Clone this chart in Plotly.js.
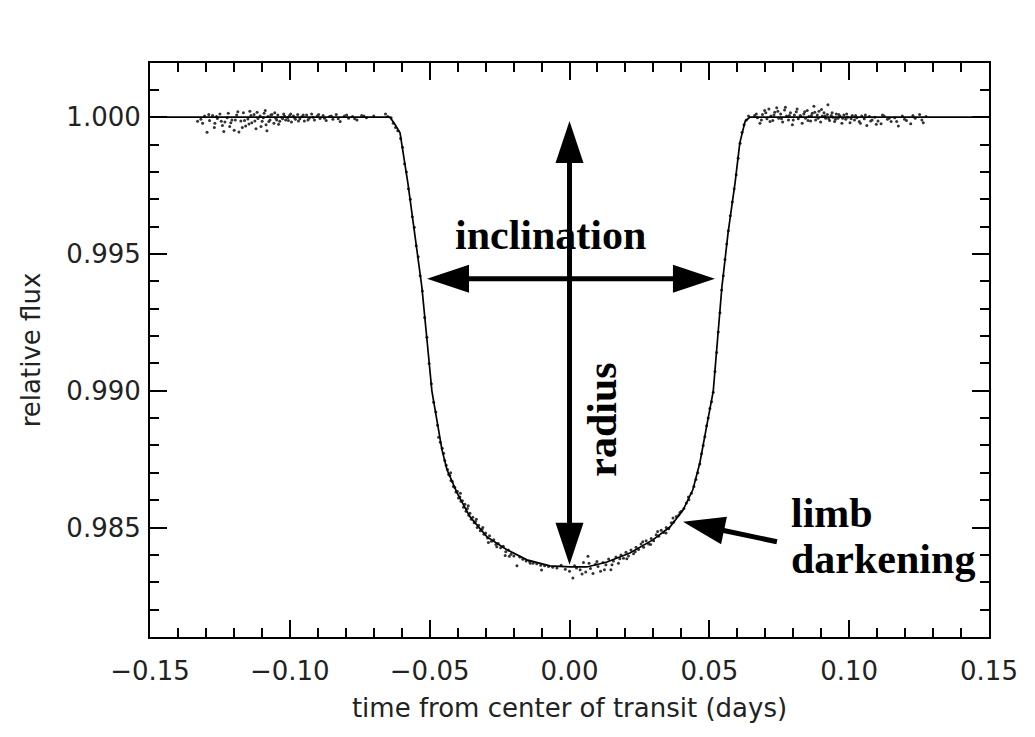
<!DOCTYPE html>
<html><head><meta charset="utf-8">
<script src="https://cdn.plot.ly/plotly-3.0.1.min.js"></script>
<style>html,body{margin:0;padding:0;background:#fff}#chart{width:1035px;height:737px}</style>
</head><body><div id="chart"></div>
<script>
// Model light curve
const modelTime = [-0.15, -0.0642, -0.0625, -0.0606, -0.0578, -0.0553, -0.0528, -0.0510, -0.0492, -0.0472, -0.0456, -0.0438, -0.0402, -0.0356, -0.0295, -0.0224, -0.0152, -0.0070, 0.0002, 0.0062, 0.0134, 0.0216, 0.0298, 0.0359, 0.0406, 0.0441, 0.0466, 0.0488, 0.0514, 0.0545, 0.0567, 0.0592, 0.0609, 0.0628, 0.0645, 0.15];
const modelFlux = [1.0000, 1.0000, 0.99975, 0.99943, 0.99760, 0.99577, 0.99380, 0.99190, 0.98999, 0.98880, 0.98784, 0.98711, 0.98627, 0.98539, 0.98466, 0.98419, 0.98382, 0.98360, 0.98356, 0.98356, 0.98374, 0.98407, 0.98455, 0.98502, 0.98564, 0.98638, 0.98736, 0.98857, 0.98999, 0.99380, 0.99577, 0.99760, 0.99906, 0.99985, 1.0000, 1.0000];

const obsTime = [
-0.1330,-0.1318,-0.1305,-0.1296,-0.1287,-0.1276,-0.1268,-0.1259,-0.1250,-0.1241,-0.1232,-0.1224,-0.1215,-0.1207,-0.1199,-0.1190,-0.1182,-0.1175,-0.1166,-0.1158,-0.1150,-0.1143,-0.1136,-0.1128,-0.1121,-0.1114,-0.1106,-0.1099,-0.1092,-0.1085,-0.1082,-0.1078,-0.1071,-0.1064,-0.1057,-0.1050,-0.1043,-0.1036,-0.1029,-0.1022,-0.1015,-0.1008,-0.1001,-0.0994,-0.0987,-0.0980,-0.0972,-0.0964,-0.0956,-0.0948,-0.0940,-0.0931,-0.0922,-0.0912,-0.0902,-0.0892,-0.0881,-0.0870,-0.0858,-0.0846,-0.0834,-0.0820,-0.0805,-0.0790,-0.0776,-0.0760,-0.0743,-0.0726,-0.0700,-0.0658,-0.0650,
-0.0638,-0.0630,-0.0622,-0.0614,-0.0604,-0.0597,-0.0590,-0.0583,-0.0576,-0.0569,-0.0562,-0.0555,-0.0548,-0.0541,-0.0534,-0.0526,-0.0518,-0.0510,-0.0502,-0.0494,-0.0486,-0.0478,-0.0472,
-0.0468,-0.0462,-0.0455,-0.0450,-0.0446,-0.0441,-0.0436,-0.0432,-0.0428,-0.0424,-0.0419,-0.0415,-0.0410,-0.0406,-0.0401,-0.0397,-0.0392,-0.0388,-0.0383,-0.0379,-0.0374,-0.0370,-0.0365,-0.0360,-0.0356,-0.0351,-0.0346,-0.0341,-0.0336,-0.0330,-0.0325,-0.0319,-0.0313,-0.0306,-0.0300,-0.0293,-0.0286,-0.0279,-0.0271,-0.0263,-0.0255,-0.0246,-0.0237,-0.0228,-0.0219,-0.0209,-0.0199,-0.0188,-0.0178,-0.0167,-0.0155,-0.0143,-0.0130,-0.0117,-0.0103,-0.0089,-0.0075,-0.0060,-0.0045,-0.0030,-0.0015,0.0000,0.0012,0.0025,0.0038,0.0050,0.0058,0.0066,0.0075,0.0084,0.0093,0.0102,0.0111,0.0120,0.0130,0.0140,0.0148,0.0157,0.0166,0.0175,0.0184,0.0193,0.0202,0.0211,0.0220,0.0229,0.0238,0.0247,0.0256,0.0265,0.0274,0.0283,0.0292,0.0301,0.0310,0.0319,0.0328,0.0337,0.0346,0.0355,0.0364,0.0373,0.0382,0.0391,0.0400,0.0409,0.0418,0.0427,0.0436,0.0445,0.0452,0.0459,0.0466,
0.0472,0.0478,0.0484,0.0490,0.0496,0.0502,0.0508,0.0514,0.0520,0.0526,0.0532,0.0538,0.0544,0.0550,0.0556,0.0562,0.0568,0.0575,0.0582,0.0589,0.0596,0.0603,0.0610,0.0617,0.0624,0.0632,0.0640,
0.0662,0.0672,0.0681,0.0690,0.0698,0.0706,0.0713,0.0720,0.0727,0.0734,0.0741,0.0748,0.0755,0.0762,0.0769,0.0776,0.0783,0.0790,0.0797,0.0804,0.0811,0.0818,0.0825,0.0832,0.0838,0.0844,0.0850,0.0856,0.0862,0.0868,0.0874,0.0880,0.0886,0.0892,0.0898,0.0904,0.0910,0.0916,0.0922,0.0924,0.0930,0.0936,0.0942,0.0948,0.0954,0.0960,0.0967,0.0974,0.0981,0.0988,0.0995,0.1003,0.1011,0.1019,0.1027,0.1036,0.1045,0.1054,0.1063,0.1072,0.1082,0.1092,0.1103,0.1114,0.1125,0.1137,0.1150,0.1163,0.1176,0.1190,0.1205,0.1220,0.1236,0.1252,0.1265,0.1275,
-0.1312,-0.1290,-0.1270,-0.1262,-0.1245,-0.1236,-0.1220,-0.1211,-0.1195,-0.1186,-0.1170,-0.1162,-0.1146,-0.1139,-0.1125,-0.1117,-0.1103,-0.1095,-0.1088,-0.1075,-0.1068,-0.1054,-0.1047,-0.1040,-0.1026,-0.1019,-0.1005,-0.0997,-0.0983,-0.0969,-0.0952,-0.0935,-0.0917,-0.0897,-0.0876,-0.0852,-0.0827,-0.0797,-0.0768,-0.0735,
0.0668,0.0686,0.0702,0.0717,0.0731,0.0745,0.0758,0.0772,0.0786,0.0800,0.0814,0.0828,0.0841,0.0853,0.0865,0.0877,0.0889,0.0901,0.0913,0.0927,0.0939,0.0951,0.0963,0.0977,0.0991,0.1007,0.1023,0.1040,0.1058,0.1077,0.1097,0.1119,0.1143,0.1170,0.1198,0.1228,0.1260,
-0.0425,-0.0390,-0.0362,-0.0333,-0.0310,-0.0290,-0.0260,-0.0230,-0.0215,-0.0140,-0.0100,0.0018,0.0045,0.0070,0.0098,0.0125,0.0152,0.0180,0.0205,0.0235,0.0262,0.0290,0.0315,0.0345,0.0370,0.0395,0.0425
];
const obsFlux = [
0.99985,0.99992,1.00004,0.99945,0.99988,1.00006,0.99978,0.99995,1.00012,0.99970,0.99982,0.99998,0.99966,0.99990,0.99952,1.00008,0.99946,0.99986,1.00016,0.99968,0.99993,1.00022,0.99980,1.00010,0.99958,0.99995,1.00004,0.99985,1.00014,0.99972,0.99950,1.00002,0.99990,1.00010,0.99978,0.99996,1.00008,0.99985,1.00000,1.00012,0.99990,0.99998,1.00006,0.99982,1.00004,0.99992,1.00010,0.99994,1.00002,0.99986,1.00008,0.99996,1.00012,0.99990,1.00004,0.99995,1.00006,0.99988,1.00002,0.99992,1.00010,0.99984,1.00004,0.99996,1.00002,0.99990,1.00006,0.99998,1.00004,1.00012,1.00002,
0.99998,0.99978,0.99962,0.99950,0.99922,0.99890,0.99830,0.99800,0.99738,0.99700,0.99636,0.99598,0.99530,0.99490,0.99420,0.99365,0.99268,0.99196,0.99100,0.99026,0.98958,0.98922,0.98874,
0.98830,0.98812,0.98790,0.98772,0.98745,0.98728,0.98712,0.98694,0.98690,0.98672,0.98668,0.98650,0.98646,0.98630,0.98632,0.98608,0.98612,0.98596,0.98598,0.98574,0.98585,0.98560,0.98570,0.98545,0.98552,0.98530,0.98538,0.98518,0.98522,0.98500,0.98508,0.98488,0.98494,0.98476,0.98480,0.98462,0.98470,0.98450,0.98455,0.98438,0.98442,0.98426,0.98432,0.98412,0.98418,0.98402,0.98396,0.98360,0.98392,0.98384,0.98378,0.98376,0.98370,0.98368,0.98362,0.98360,0.98358,0.98355,0.98352,0.98362,0.98348,0.98340,0.98316,0.98352,0.98346,0.98372,0.98338,0.98395,0.98350,0.98332,0.98366,0.98358,0.98340,0.98372,0.98364,0.98385,0.98346,0.98378,0.98392,0.98370,0.98400,0.98388,0.98410,0.98396,0.98418,0.98404,0.98428,0.98420,0.98440,0.98428,0.98452,0.98440,0.98460,0.98452,0.98474,0.98468,0.98490,0.98482,0.98500,0.98496,0.98518,0.98520,0.98540,0.98546,0.98560,0.98570,0.98590,0.98602,0.98625,0.98650,0.98676,0.98700,0.98732,
0.98770,0.98800,0.98832,0.98872,0.98900,0.98935,0.98960,0.98995,0.99070,0.99140,0.99215,0.99285,0.99368,0.99420,0.99480,0.99536,0.99585,0.99640,0.99690,0.99738,0.99790,0.99850,0.99905,0.99945,0.99972,0.99990,1.00004,
1.00006,0.99998,0.99978,1.00010,1.00024,0.99994,1.00030,1.00004,0.99988,1.00018,1.00034,0.99996,1.00012,0.99982,1.00026,1.00004,0.99990,1.00016,0.99972,1.00008,1.00020,0.99994,1.00006,0.99978,1.00012,0.99996,1.00024,1.00002,0.99986,1.00014,1.00040,0.99990,1.00008,1.00022,0.99982,1.00004,1.00016,0.99996,1.00010,1.00045,0.99988,1.00006,1.00000,0.99984,1.00012,0.99996,1.00004,0.99978,1.00008,0.99992,1.00000,0.99980,1.00006,0.99990,0.99998,0.99984,1.00004,0.99994,0.99970,1.00002,0.99990,1.00000,0.99986,0.99976,1.00004,0.99992,0.99984,0.99998,0.99968,1.00004,0.99988,0.99976,0.99996,1.00010,0.99980,1.00002,
0.99978,1.00010,0.99962,1.00002,0.99985,0.99948,1.00014,0.99980,0.99990,1.00020,0.99962,0.99988,0.99975,1.00006,0.99986,1.00018,0.99966,0.99998,1.00024,0.99984,1.00008,1.00016,0.99990,0.99974,0.99994,1.00004,0.99988,1.00012,0.99998,0.99986,1.00008,0.99990,1.00000,1.00010,0.99996,1.00004,0.99994,1.00008,0.99994,1.00004,
1.00012,0.99990,1.00016,0.99984,1.00008,1.00022,0.99994,1.00036,1.00006,0.99990,1.00030,1.00002,1.00020,0.99988,1.00006,1.00018,0.99996,1.00028,1.00004,0.99994,1.00016,0.99992,1.00010,0.99996,1.00012,0.99994,1.00006,0.99978,1.00008,0.99986,0.99974,1.00008,0.99996,0.99984,0.99992,1.00006,0.99990,
0.98700,0.98625,0.98580,0.98530,0.98500,0.98445,0.98430,0.98398,0.98395,0.98370,0.98345,0.98360,0.98330,0.98370,0.98376,0.98346,0.98364,0.98386,0.98386,0.98412,0.98448,0.98438,0.98486,0.98480,0.98535,0.98555,0.98612
];

const xTickVals = [-0.15, -0.10, -0.05, 0.00, 0.05, 0.10, 0.15];
const xTickText = ['\u22120.15', '\u22120.10', '\u22120.05', '0.00', '0.05', '0.10', '0.15'];
const yTickVals = [0.985, 0.990, 0.995, 1.000];
const yTickText = ['0.985', '0.990', '0.995', '1.000'];

const W = 1035, H = 737;
const M = {l: 150, r: 46, t: 63, b: 100};
const xRange = [-0.15, 0.15];
const yRange = [0.98100, 1.00198];
const pxX = (W - M.l - M.r) / (xRange[1] - xRange[0]);
const pxY = (H - M.t - M.b) / (yRange[1] - yRange[0]);

const HEAD_L = 42, HEAD_W = 28, SHAFT = 5;
const shapes = [];
function arrowHead(tx, ty, fx, fy) {
  const dx = (tx - fx) * pxX, dy = (ty - fy) * pxY;
  const n = Math.hypot(dx, dy), ux = dx / n, uy = dy / n;
  const px = -uy, py = ux;
  const bx = -HEAD_L * ux, by = -HEAD_L * uy;
  const p = `M0,0 L${(bx + px * HEAD_W / 2).toFixed(2)},${(by + py * HEAD_W / 2).toFixed(2)} L${(bx - px * HEAD_W / 2).toFixed(2)},${(by - py * HEAD_W / 2).toFixed(2)} Z`;
  shapes.push({type: 'path', xref: 'x', yref: 'y', xsizemode: 'pixel', ysizemode: 'pixel',
    xanchor: tx, yanchor: ty, path: p, fillcolor: '#000', line: {width: 0}, layer: 'above'});
}
function shrink(tx, ty, fx, fy, by) {
  const dx = (tx - fx) * pxX, dy = (ty - fy) * pxY;
  const n = Math.hypot(dx, dy);
  return [tx - (dx / n) * by / pxX, ty - (dy / n) * by / pxY];
}
function arrow(x0, y0, x1, y1, both) {
  const e1 = shrink(x1, y1, x0, y0, HEAD_L - 4);
  const e0 = both ? shrink(x0, y0, x1, y1, HEAD_L - 4) : [x0, y0];
  shapes.push({type: 'line', xref: 'x', yref: 'y', x0: e0[0], y0: e0[1], x1: e1[0], y1: e1[1],
    line: {color: '#000', width: SHAFT}, layer: 'above'});
  arrowHead(x1, y1, x0, y0);
  if (both) arrowHead(x0, y0, x1, y1);
}
arrow(0.0, 0.98364, 0.0, 0.99986, true);          // radius
arrow(-0.05096, 0.99409, 0.0520, 0.99409, true);  // inclination
arrow(0.07417, 0.98448, 0.04056, 0.98521, false); // limb darkening

const annFont = {family: 'Liberation Serif, Times New Roman, serif', size: 42, color: '#000', weight: 700};
const annotations = [
  {text: 'inclination', x: -0.0068, y: 0.9957, xref: 'x', yref: 'y', showarrow: false, font: annFont},
  {text: 'radius', x: 0.0116, y: 0.98894, xref: 'x', yref: 'y', showarrow: false, textangle: -90, font: annFont},
  {text: 'limb', x: 0.0785, y: 0.98554, xref: 'x', yref: 'y', xanchor: 'left', showarrow: false, font: annFont},
  {text: 'darkening', x: 0.0785, y: 0.98386, xref: 'x', yref: 'y', xanchor: 'left', showarrow: false, font: annFont}
];

const tickFont = {family: 'DejaVu Sans, sans-serif', size: 26, color: '#222'};
const titleFont = {family: 'DejaVu Sans, sans-serif', size: 26, color: '#222'};
const data = [
  {x: obsTime, y: obsFlux, type: 'scatter', mode: 'markers',
   marker: {size: 3, color: '#333'}, hoverinfo: 'skip', showlegend: false},
  {x: modelTime, y: modelFlux, type: 'scatter', mode: 'lines',
   line: {color: '#000', width: 1.7}, showlegend: false}
];
const layout = {
  width: W, height: H, margin: M,
  paper_bgcolor: '#fff', plot_bgcolor: '#fff',
  showlegend: false,
  xaxis: {range: xRange, tickmode: 'array', tickvals: xTickVals, ticktext: xTickText,
    ticks: 'inside', ticklen: 17, tickwidth: 2, tickcolor: '#000',
    minor: {tickmode: 'linear', tick0: -0.15, dtick: 0.01, ticks: 'inside', ticklen: 9, tickwidth: 2, tickcolor: '#000', showgrid: false},
    showline: true, linewidth: 2, linecolor: '#000', mirror: 'ticks', showgrid: false, zeroline: false,
    tickfont: tickFont, ticklabelstandoff: 10,
    title: {text: 'time from center of transit (days)', font: titleFont, standoff: 14}},
  yaxis: {range: yRange, tickmode: 'array', tickvals: yTickVals, ticktext: yTickText,
    ticks: 'inside', ticklen: 17, tickwidth: 2, tickcolor: '#000',
    minor: {tickmode: 'linear', tick0: 0.985, dtick: 0.001, ticks: 'inside', ticklen: 9, tickwidth: 2, tickcolor: '#000', showgrid: false},
    showline: true, linewidth: 2, linecolor: '#000', mirror: 'ticks', showgrid: false, zeroline: false,
    tickfont: tickFont, ticklabelstandoff: 2,
    title: {text: 'relative flux', font: titleFont, standoff: 18}},
  shapes: shapes,
  annotations: annotations
};
Plotly.newPlot('chart', data, layout, {displayModeBar: false, staticPlot: true});
</script>
</body></html>
